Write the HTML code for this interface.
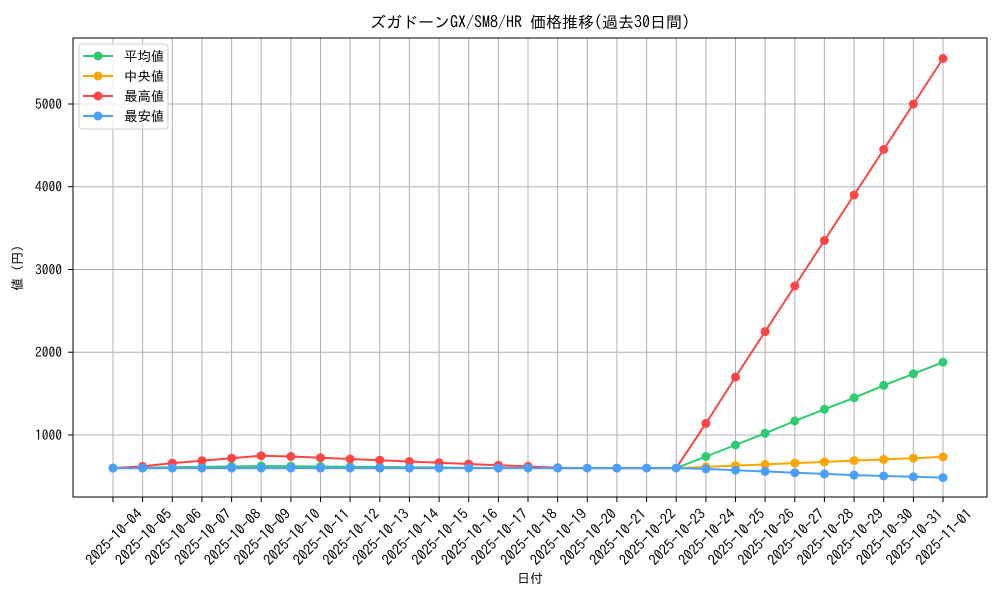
<!DOCTYPE html>
<html><head><meta charset="utf-8"><style>
body{margin:0;background:#fff}
svg text{font-family:"IPAGothic","Noto Sans CJK JP",monospace;fill:#000}
</style></head><body>
<svg width="1000" height="600" xmlns="http://www.w3.org/2000/svg">
<rect width="1000" height="600" fill="#fff"/>
<g stroke="#b0b0b0" stroke-width="1">
<line x1="113" y1="38" x2="113" y2="497"/><line x1="142.6" y1="38" x2="142.6" y2="497"/><line x1="172.3" y1="38" x2="172.3" y2="497"/><line x1="201.9" y1="38" x2="201.9" y2="497"/><line x1="231.6" y1="38" x2="231.6" y2="497"/><line x1="261.2" y1="38" x2="261.2" y2="497"/><line x1="290.9" y1="38" x2="290.9" y2="497"/><line x1="320.5" y1="38" x2="320.5" y2="497"/><line x1="350.1" y1="38" x2="350.1" y2="497"/><line x1="379.8" y1="38" x2="379.8" y2="497"/><line x1="409.4" y1="38" x2="409.4" y2="497"/><line x1="439.1" y1="38" x2="439.1" y2="497"/><line x1="468.7" y1="38" x2="468.7" y2="497"/><line x1="498.4" y1="38" x2="498.4" y2="497"/><line x1="528" y1="38" x2="528" y2="497"/><line x1="557.6" y1="38" x2="557.6" y2="497"/><line x1="587.3" y1="38" x2="587.3" y2="497"/><line x1="616.9" y1="38" x2="616.9" y2="497"/><line x1="646.6" y1="38" x2="646.6" y2="497"/><line x1="676.2" y1="38" x2="676.2" y2="497"/><line x1="705.9" y1="38" x2="705.9" y2="497"/><line x1="735.5" y1="38" x2="735.5" y2="497"/><line x1="765.1" y1="38" x2="765.1" y2="497"/><line x1="794.8" y1="38" x2="794.8" y2="497"/><line x1="824.4" y1="38" x2="824.4" y2="497"/><line x1="854.1" y1="38" x2="854.1" y2="497"/><line x1="883.7" y1="38" x2="883.7" y2="497"/><line x1="913.4" y1="38" x2="913.4" y2="497"/><line x1="943" y1="38" x2="943" y2="497"/>
<line x1="73" y1="435" x2="987" y2="435"/><line x1="73" y1="352.2" x2="987" y2="352.2"/><line x1="73" y1="269.5" x2="987" y2="269.5"/><line x1="73" y1="186.7" x2="987" y2="186.7"/><line x1="73" y1="104" x2="987" y2="104"/>
</g>
<rect x="73" y="38" width="914" height="459" fill="none" stroke="#000" stroke-width="1"/>
<g stroke="#000"><line x1="68" y1="435" x2="73" y2="435"/><line x1="68" y1="352.2" x2="73" y2="352.2"/><line x1="68" y1="269.5" x2="73" y2="269.5"/><line x1="68" y1="186.7" x2="73" y2="186.7"/><line x1="68" y1="104" x2="73" y2="104"/>
<line x1="113" y1="497" x2="113" y2="502"/><line x1="142.6" y1="497" x2="142.6" y2="502"/><line x1="172.3" y1="497" x2="172.3" y2="502"/><line x1="201.9" y1="497" x2="201.9" y2="502"/><line x1="231.6" y1="497" x2="231.6" y2="502"/><line x1="261.2" y1="497" x2="261.2" y2="502"/><line x1="290.9" y1="497" x2="290.9" y2="502"/><line x1="320.5" y1="497" x2="320.5" y2="502"/><line x1="350.1" y1="497" x2="350.1" y2="502"/><line x1="379.8" y1="497" x2="379.8" y2="502"/><line x1="409.4" y1="497" x2="409.4" y2="502"/><line x1="439.1" y1="497" x2="439.1" y2="502"/><line x1="468.7" y1="497" x2="468.7" y2="502"/><line x1="498.4" y1="497" x2="498.4" y2="502"/><line x1="528" y1="497" x2="528" y2="502"/><line x1="557.6" y1="497" x2="557.6" y2="502"/><line x1="587.3" y1="497" x2="587.3" y2="502"/><line x1="616.9" y1="497" x2="616.9" y2="502"/><line x1="646.6" y1="497" x2="646.6" y2="502"/><line x1="676.2" y1="497" x2="676.2" y2="502"/><line x1="705.9" y1="497" x2="705.9" y2="502"/><line x1="735.5" y1="497" x2="735.5" y2="502"/><line x1="765.1" y1="497" x2="765.1" y2="502"/><line x1="794.8" y1="497" x2="794.8" y2="502"/><line x1="824.4" y1="497" x2="824.4" y2="502"/><line x1="854.1" y1="497" x2="854.1" y2="502"/><line x1="883.7" y1="497" x2="883.7" y2="502"/><line x1="913.4" y1="497" x2="913.4" y2="502"/><line x1="943" y1="497" x2="943" y2="502"/></g>
<g font-size="13.5" text-anchor="end">
<text x="62" y="440">1000</text><text x="62" y="357">2000</text><text x="62" y="274.5">3000</text><text x="62" y="191.7">4000</text><text x="62" y="109">5000</text>
</g>
<g font-size="14.5" text-anchor="middle">
<text transform="translate(114,537) rotate(-45)" dy="5">2025-10-04</text><text transform="translate(143.6,537) rotate(-45)" dy="5">2025-10-05</text><text transform="translate(173.3,537) rotate(-45)" dy="5">2025-10-06</text><text transform="translate(202.9,537) rotate(-45)" dy="5">2025-10-07</text><text transform="translate(232.6,537) rotate(-45)" dy="5">2025-10-08</text><text transform="translate(262.2,537) rotate(-45)" dy="5">2025-10-09</text><text transform="translate(291.9,537) rotate(-45)" dy="5">2025-10-10</text><text transform="translate(321.5,537) rotate(-45)" dy="5">2025-10-11</text><text transform="translate(351.1,537) rotate(-45)" dy="5">2025-10-12</text><text transform="translate(380.8,537) rotate(-45)" dy="5">2025-10-13</text><text transform="translate(410.4,537) rotate(-45)" dy="5">2025-10-14</text><text transform="translate(440.1,537) rotate(-45)" dy="5">2025-10-15</text><text transform="translate(469.7,537) rotate(-45)" dy="5">2025-10-16</text><text transform="translate(499.4,537) rotate(-45)" dy="5">2025-10-17</text><text transform="translate(529,537) rotate(-45)" dy="5">2025-10-18</text><text transform="translate(558.6,537) rotate(-45)" dy="5">2025-10-19</text><text transform="translate(588.3,537) rotate(-45)" dy="5">2025-10-20</text><text transform="translate(617.9,537) rotate(-45)" dy="5">2025-10-21</text><text transform="translate(647.6,537) rotate(-45)" dy="5">2025-10-22</text><text transform="translate(677.2,537) rotate(-45)" dy="5">2025-10-23</text><text transform="translate(706.9,537) rotate(-45)" dy="5">2025-10-24</text><text transform="translate(736.5,537) rotate(-45)" dy="5">2025-10-25</text><text transform="translate(766.1,537) rotate(-45)" dy="5">2025-10-26</text><text transform="translate(795.8,537) rotate(-45)" dy="5">2025-10-27</text><text transform="translate(825.4,537) rotate(-45)" dy="5">2025-10-28</text><text transform="translate(855.1,537) rotate(-45)" dy="5">2025-10-29</text><text transform="translate(884.7,537) rotate(-45)" dy="5">2025-10-30</text><text transform="translate(914.4,537) rotate(-45)" dy="5">2025-10-31</text><text transform="translate(944,537) rotate(-45)" dy="5">2025-11-01</text>
</g>
<text x="530" y="583" font-size="13" text-anchor="middle">日付</text>
<text transform="translate(22,268) rotate(-90)" font-size="13" text-anchor="middle">値 (円)</text>
<text x="530" y="28" font-size="16" text-anchor="middle">ズガドーンGX/SM8/HR 価格推移(過去30日間)</text>
<g fill="none" stroke-width="2">
<polyline stroke="#2ecc71" points="113,468.1 142.6,467.7 172.3,467.3 201.9,466.9 231.6,466.4 261.2,466 290.9,466.2 320.5,466.5 350.1,466.8 379.8,467 409.4,467.3 439.1,467.5 468.7,467.7 498.4,467.9 528,468 557.6,468.1 587.3,468.1 616.9,468.1 646.6,468.1 676.2,468.1 705.9,456.5 735.5,445 765.1,433.3 794.8,420.9 824.4,409.3 854.1,397.8 883.7,385.4 913.4,373.8 943,362.2"/>
<polyline stroke="#ffa500" points="113,468.1 676.2,468.1 705.9,466.9 735.5,465.6 765.1,464.4 794.8,463.1 824.4,461.9 854.1,460.6 883.7,459.4 913.4,458.2 943,456.9"/>
<polyline stroke="#ff4444" points="113,468.1 142.6,466.4 172.3,463.1 201.9,460.7 231.6,458.2 261.2,455.7 290.9,456.5 320.5,457.7 350.1,459 379.8,460.2 409.4,461.5 439.1,462.7 468.7,464 498.4,465.2 528,466.4 557.6,467.7 587.3,468.1 616.9,468.1 646.6,468.1 676.2,468.1 705.9,423.4 735.5,377.1 765.1,331.6 794.8,286 824.4,240.5 854.1,195 883.7,149.5 913.4,104 943,58.5"/>
<polyline stroke="#4a9eff" points="113,468.1 676.2,468.1 705.9,468.9 735.5,470.2 765.1,471.4 794.8,472.7 824.4,473.9 854.1,475.1 883.7,476 913.4,476.8 943,477.6"/>
</g>
<g fill="#2ecc71"><circle cx="113" cy="468.1" r="4.5"/><circle cx="142.6" cy="467.7" r="4.5"/><circle cx="172.3" cy="467.3" r="4.5"/><circle cx="201.9" cy="466.9" r="4.5"/><circle cx="231.6" cy="466.4" r="4.5"/><circle cx="261.2" cy="466" r="4.5"/><circle cx="290.9" cy="466.2" r="4.5"/><circle cx="320.5" cy="466.5" r="4.5"/><circle cx="350.1" cy="466.8" r="4.5"/><circle cx="379.8" cy="467" r="4.5"/><circle cx="409.4" cy="467.3" r="4.5"/><circle cx="439.1" cy="467.5" r="4.5"/><circle cx="468.7" cy="467.7" r="4.5"/><circle cx="498.4" cy="467.9" r="4.5"/><circle cx="528" cy="468" r="4.5"/><circle cx="705.9" cy="456.5" r="4.5"/><circle cx="735.5" cy="445" r="4.5"/><circle cx="765.1" cy="433.3" r="4.5"/><circle cx="794.8" cy="420.9" r="4.5"/><circle cx="824.4" cy="409.3" r="4.5"/><circle cx="854.1" cy="397.8" r="4.5"/><circle cx="883.7" cy="385.4" r="4.5"/><circle cx="913.4" cy="373.8" r="4.5"/><circle cx="943" cy="362.2" r="4.5"/></g>
<g fill="#ffa500"><circle cx="705.9" cy="466.9" r="4.5"/><circle cx="735.5" cy="465.6" r="4.5"/><circle cx="765.1" cy="464.4" r="4.5"/><circle cx="794.8" cy="463.1" r="4.5"/><circle cx="824.4" cy="461.9" r="4.5"/><circle cx="854.1" cy="460.6" r="4.5"/><circle cx="883.7" cy="459.4" r="4.5"/><circle cx="913.4" cy="458.2" r="4.5"/><circle cx="943" cy="456.9" r="4.5"/></g>
<g fill="#ff4444"><circle cx="142.6" cy="466.4" r="4.5"/><circle cx="172.3" cy="463.1" r="4.5"/><circle cx="201.9" cy="460.7" r="4.5"/><circle cx="231.6" cy="458.2" r="4.5"/><circle cx="261.2" cy="455.7" r="4.5"/><circle cx="290.9" cy="456.5" r="4.5"/><circle cx="320.5" cy="457.7" r="4.5"/><circle cx="350.1" cy="459" r="4.5"/><circle cx="379.8" cy="460.2" r="4.5"/><circle cx="409.4" cy="461.5" r="4.5"/><circle cx="439.1" cy="462.7" r="4.5"/><circle cx="468.7" cy="464" r="4.5"/><circle cx="498.4" cy="465.2" r="4.5"/><circle cx="528" cy="466.4" r="4.5"/><circle cx="557.6" cy="467.7" r="4.5"/><circle cx="705.9" cy="423.4" r="4.5"/><circle cx="735.5" cy="377.1" r="4.5"/><circle cx="765.1" cy="331.6" r="4.5"/><circle cx="794.8" cy="286" r="4.5"/><circle cx="824.4" cy="240.5" r="4.5"/><circle cx="854.1" cy="195" r="4.5"/><circle cx="883.7" cy="149.5" r="4.5"/><circle cx="913.4" cy="104" r="4.5"/><circle cx="943" cy="58.5" r="4.5"/></g>
<g fill="#4a9eff"><circle cx="113" cy="468.1" r="4.5"/><circle cx="142.6" cy="468.1" r="4.5"/><circle cx="172.3" cy="468.1" r="4.5"/><circle cx="201.9" cy="468.1" r="4.5"/><circle cx="231.6" cy="468.1" r="4.5"/><circle cx="261.2" cy="468.1" r="4.5"/><circle cx="290.9" cy="468.1" r="4.5"/><circle cx="320.5" cy="468.1" r="4.5"/><circle cx="350.1" cy="468.1" r="4.5"/><circle cx="379.8" cy="468.1" r="4.5"/><circle cx="409.4" cy="468.1" r="4.5"/><circle cx="439.1" cy="468.1" r="4.5"/><circle cx="468.7" cy="468.1" r="4.5"/><circle cx="498.4" cy="468.1" r="4.5"/><circle cx="528" cy="468.1" r="4.5"/><circle cx="557.6" cy="468.1" r="4.5"/><circle cx="587.3" cy="468.1" r="4.5"/><circle cx="616.9" cy="468.1" r="4.5"/><circle cx="646.6" cy="468.1" r="4.5"/><circle cx="676.2" cy="468.1" r="4.5"/><circle cx="705.9" cy="468.9" r="4.5"/><circle cx="735.5" cy="470.2" r="4.5"/><circle cx="765.1" cy="471.4" r="4.5"/><circle cx="794.8" cy="472.7" r="4.5"/><circle cx="824.4" cy="473.9" r="4.5"/><circle cx="854.1" cy="475.1" r="4.5"/><circle cx="883.7" cy="476" r="4.5"/><circle cx="913.4" cy="476.8" r="4.5"/><circle cx="943" cy="477.6" r="4.5"/></g>
<rect x="79" y="44" width="89" height="85" rx="3" fill="#fff" fill-opacity="0.8" stroke="#ccc"/>
<g stroke-width="2">
<line x1="83" y1="56" x2="113" y2="56" stroke="#2ecc71"/><circle cx="98" cy="56" r="4.5" fill="#2ecc71"/>
<line x1="83" y1="76" x2="113" y2="76" stroke="#ffa500"/><circle cx="98" cy="76" r="4.5" fill="#ffa500"/>
<line x1="83" y1="96" x2="113" y2="96" stroke="#ff4444"/><circle cx="98" cy="96" r="4.5" fill="#ff4444"/>
<line x1="83" y1="116" x2="113" y2="116" stroke="#4a9eff"/><circle cx="98" cy="116" r="4.5" fill="#4a9eff"/>
</g>
<g font-size="13.5"><text x="124" y="61">平均値</text><text x="124" y="81">中央値</text><text x="124" y="101">最高値</text><text x="124" y="121">最安値</text></g>
</svg>
</body></html>
